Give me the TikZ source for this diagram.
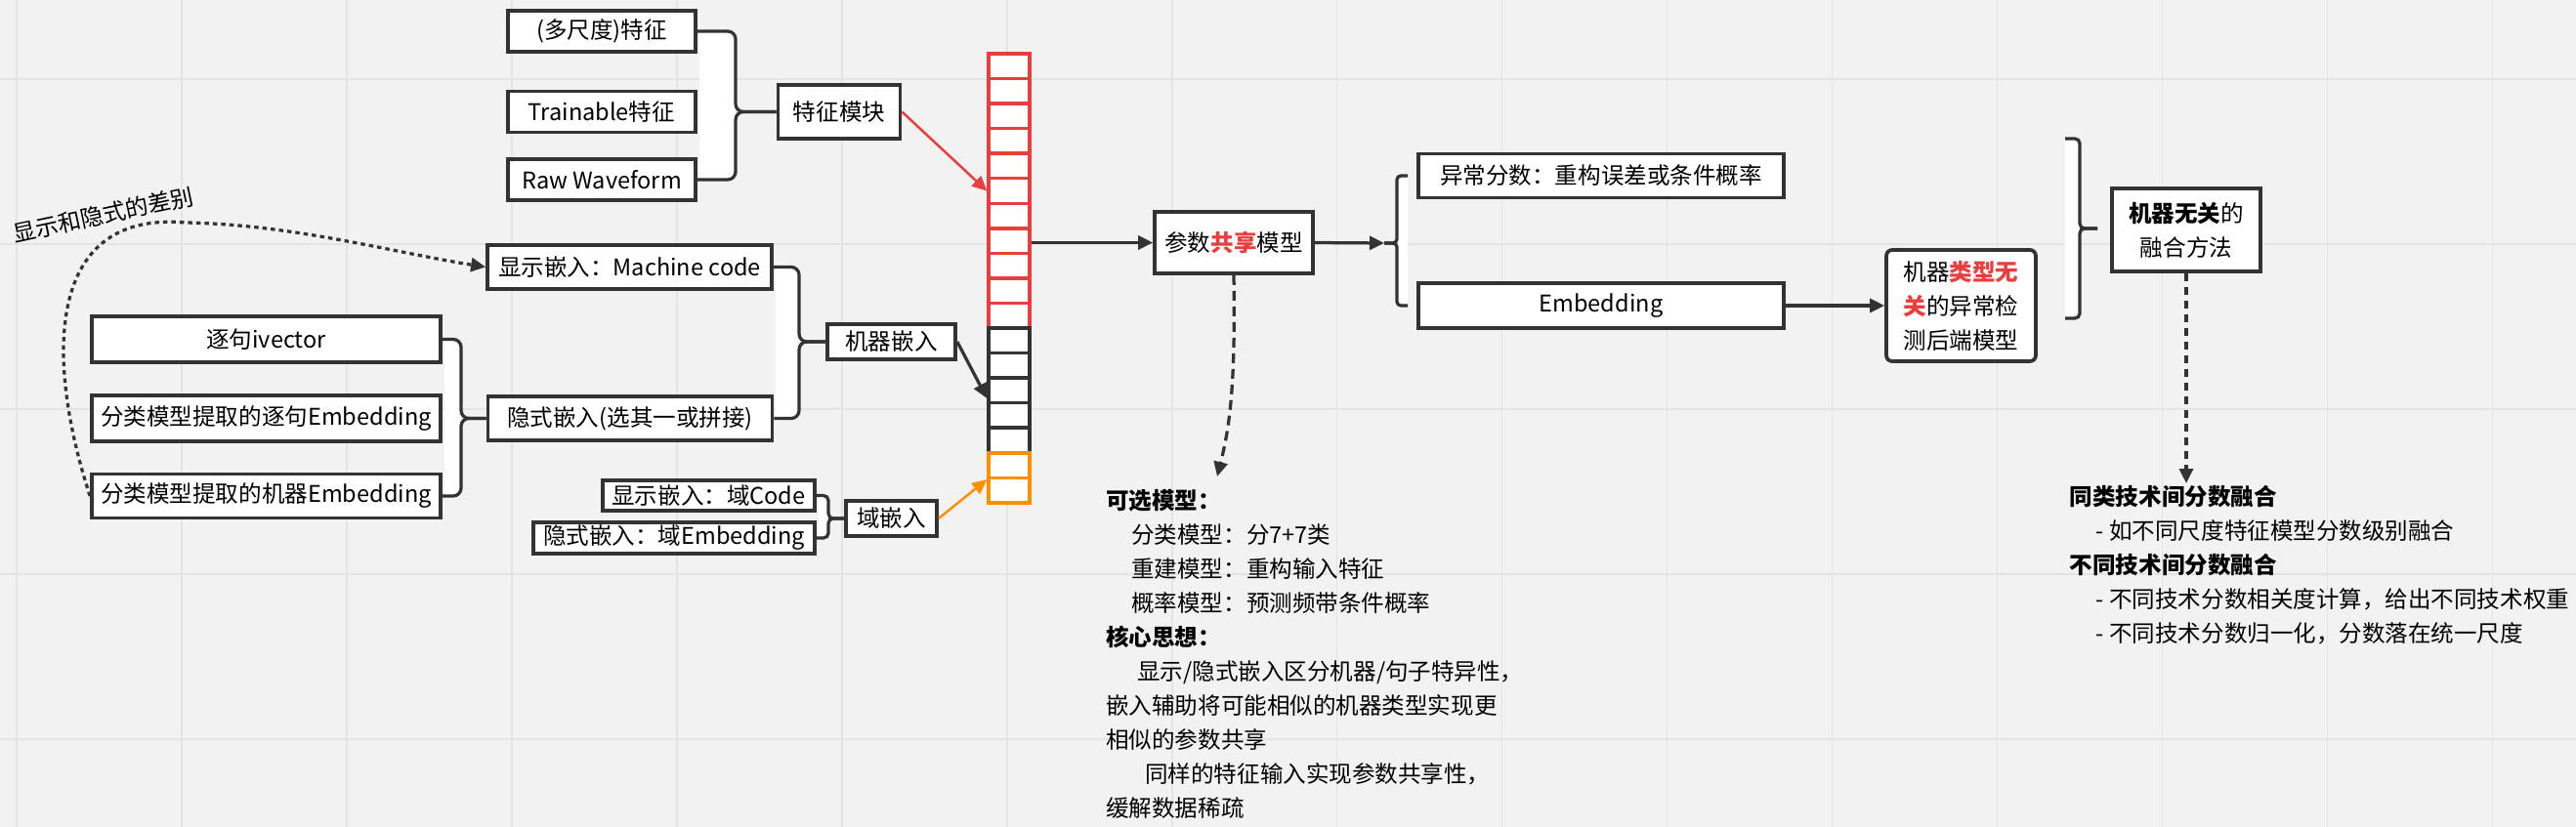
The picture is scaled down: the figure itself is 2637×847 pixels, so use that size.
\documentclass[tikz,border=0pt]{standalone}
\usepackage{fontspec}
\setmainfont{Noto Sans CJK SC}
\usetikzlibrary{positioning,calc,arrows.meta}

\definecolor{canvas}{HTML}{F2F2F2}
\definecolor{gridgray}{HTML}{E4E4E4}
\definecolor{linegray}{HTML}{333333}
\definecolor{hotred}{HTML}{E83E3E}
\definecolor{amber}{HTML}{FF8F00}

\begin{document}
\begin{tikzpicture}[
    x=0.02cm, y=-0.02cm,
    >={Triangle[length=0.3cm,width=0.28cm]},
    box/.style={draw=linegray, fill=white, line width=0.075cm, inner sep=0pt, font=\fontsize{13.4}{19.9}\selectfont},
    cell/.style={fill=white, line width=0.07cm, minimum width=0.84cm, minimum height=0.511cm, inner sep=0pt},
    link/.style={draw=linegray, line width=0.065cm},
    brace/.style={draw=linegray, line width=0.065cm, rounded corners=0.16cm},
    note/.style={align=left, anchor=north west, inner sep=0pt, font=\fontsize{13.4}{19.9}\selectfont},
    gridline/.style={draw=gridgray, line width=0.03cm}
]

% Canvas and grid
\useasboundingbox (0,0) rectangle (2637,847);
\fill[canvas] (0,0) rectangle (2637,847);
\draw[gridline, step=3.38cm, xshift=0.34cm, yshift=-1.62cm] (-17,-81) grid (2620,766);

% Feature inputs
\node[box, minimum width=3.84cm, minimum height=0.84cm] (f1) at (616, 32) {(多尺度)特征};
\node[box, minimum width=3.84cm, minimum height=0.84cm] (f2) at (616, 114.5) {Trainable特征};
\node[box, minimum width=3.84cm, minimum height=0.84cm] (f3) at (616, 184) {Raw Waveform};
\node[box, minimum width=2.5cm, minimum height=1.1cm] (feat) at (859, 114.5) {特征模块};

% Machine embedding inputs
\node[box, minimum width=5.82cm, minimum height=0.9cm] (mc) at (644.5, 273.5) {显示嵌入：Machine code};
\node[box, minimum width=5.82cm, minimum height=0.9cm] (imp) at (645, 428.5) {隐式嵌入(选其一或拼接)};
\node[box, minimum width=7.14cm, minimum height=0.94cm] (ivec) at (272.5, 347.5) {逐句ivector};
\node[box, minimum width=7.14cm, minimum height=0.94cm] (sentEmb) at (272.5, 428.5) {分类模型提取的逐句Embedding};
\node[box, minimum width=7.14cm, minimum height=0.9cm] (machEmb) at (272.5, 508) {分类模型提取的机器Embedding};
\node[box, minimum width=2.62cm, minimum height=0.72cm] (machine) at (912.5, 350) {机器嵌入};

% Domain embedding inputs
\node[box, minimum width=4.34cm, minimum height=0.62cm] (dcode) at (725.5, 507.5) {显示嵌入：域Code};
\node[box, minimum width=5.76cm, minimum height=0.64cm] (demb) at (690, 551) {隐式嵌入：域Embedding};
\node[box, minimum width=1.86cm, minimum height=0.72cm] (domain) at (912.5, 531) {域嵌入};

\node[rotate=12, inner sep=0pt, font=\fontsize{13.4}{19.9}\selectfont] (diffLabel) at (106, 220) {显示和隐式的差别};

% Input vector column
\node[cell, draw=hotred] (c1) at (1033, 67.8) {};
\node[cell, draw=hotred] (c2) at (1033, 93.3) {};
\node[cell, draw=hotred] (c3) at (1033, 118.9) {};
\node[cell, draw=hotred] (c4) at (1033, 144.4) {};
\node[cell, draw=hotred] (c5) at (1033, 170) {};
\node[cell, draw=hotred] (c6) at (1033, 195.5) {};
\node[cell, draw=hotred] (c7) at (1033, 221.1) {};
\node[cell, draw=hotred] (c8) at (1033, 246.6) {};
\node[cell, draw=hotred] (c9) at (1033, 272.2) {};
\node[cell, draw=hotred] (c10) at (1033, 297.7) {};
\node[cell, draw=hotred] (c11) at (1033, 323.3) {};
\node[cell, draw=linegray] (c12) at (1033, 348.8) {};
\node[cell, draw=linegray] (c13) at (1033, 374.4) {};
\node[cell, draw=linegray] (c14) at (1033, 399.9) {};
\node[cell, draw=linegray] (c15) at (1033, 425.5) {};
\node[cell, draw=linegray] (c16) at (1033, 451) {};
\node[cell, draw=amber] (c17) at (1033, 476.6) {};
\node[cell, draw=amber] (c18) at (1033, 502.1) {};

% Shared model and outputs
\node[box, minimum width=3.24cm, minimum height=1.26cm] (share) at (1263, 248.5) {参数\textcolor{hotred}{\textbf{共享}}模型};
\node[box, minimum width=7.48cm, minimum height=0.9cm] (score) at (1639, 180) {异常分数：重构误差或条件概率};
\node[box, minimum width=7.48cm, minimum height=0.92cm] (emb) at (1639, 313) {Embedding};
\node[box, rounded corners=0.12cm, align=center, minimum width=3.06cm, minimum height=2.28cm] (backend) at (2007.5, 313)
    {机器\textcolor{hotred}{\textbf{类型无}}\\\textcolor{hotred}{\textbf{关}}的异常检\\测后端模型};
\node[box, align=center, minimum width=3.04cm, minimum height=1.7cm] (fusion) at (2238, 235.5) {\textbf{机器无关}的\\融合方法};

% Notes
\node[note] (optText) at (1132, 501) {\textbf{可选模型：}\\
\hspace*{0.52cm}分类模型：分7+7类\\
\hspace*{0.52cm}重建模型：重构输入特征\\
\hspace*{0.52cm}概率模型：预测频带条件概率\\
\textbf{核心思想：}\\
\hspace*{0.64cm}显示/隐式嵌入区分机器/句子特异性，\\
嵌入辅助将可能相似的机器类型实现更\\
相似的参数共享\\
\hspace*{0.8cm}同样的特征输入实现参数共享性，\\
缓解数据稀疏};
\node[note] (fuseText) at (2118.5, 497) {\textbf{同类技术间分数融合}\\
\hspace*{0.54cm}- 如不同尺度特征模型分数级别融合\\
\textbf{不同技术间分数融合}\\
\hspace*{0.54cm}- 不同技术分数相关度计算，给出不同技术权重\\
\hspace*{0.54cm}- 不同技术分数归一化，分数落在统一尺度};

% Braces
\coordinate (fb) at (753, 114.5);
\fill[white] ([xshift=0.04cm]f1.east) rectangle (f3.east -| fb);
\draw[brace] (f1.east) -| (fb) -- (feat.west);
\draw[brace] (f3.east) -| (fb) -- (feat.west);

\coordinate (mb) at (818, 350);
\fill[white] ([xshift=0.04cm]mc.east) rectangle (imp.east -| mb);
\draw[brace] (mc.east) -| (mb) -- (machine.west);
\draw[brace] (imp.east) -| (mb) -- (machine.west);

\coordinate (ib) at (472, 428.5);
\fill[white] ([xshift=0.04cm]ivec.east) rectangle (machEmb.east -| ib);
\draw[brace] (ivec.east) -| (ib) -- (imp.west);
\draw[brace] (machEmb.east) -| (ib) -- (imp.west);

\coordinate (db) at (848, 531);
\fill[white] ([xshift=0.04cm]dcode.east) rectangle (demb.east -| db);
\draw[brace, rounded corners=0.1cm] (dcode.east) -| (db) -- (domain.west);
\draw[brace, rounded corners=0.1cm] (demb.east) -| (db) -- (domain.west);

\coordinate (ob) at (1430, 249);
\coordinate (outTip) at (1417, 249);
\fill[white] ([xshift=-0.18cm]score.west) rectangle (ob |- emb.west);
\draw[brace, rounded corners=0.08cm] ([xshift=-0.18cm]score.west) -| (ob) -- (outTip);
\draw[brace, rounded corners=0.08cm] ([xshift=-0.18cm]emb.west) -| (ob) -- (outTip);

\coordinate (fuseTop) at (2114, 142);
\coordinate (fuseBot) at (2114, 326);
\coordinate (fuseMid) at (2129, 234);
\coordinate (fuseTip) at (2147, 234);
\fill[white] (fuseTop) rectangle (fuseMid |- fuseBot);
\draw[brace, rounded corners=0.1cm] (fuseTop) -| (fuseMid) -- (fuseTip);
\draw[brace, rounded corners=0.1cm] (fuseBot) -| (fuseMid) -- (fuseTip);

% Arrows into the column
\draw[->, draw=hotred, line width=0.05cm] (feat.east) -- (c6.west);
\draw[->, link] (machine.east) -- ([yshift=-0.16cm]c14.west);
\draw[->, draw=amber, line width=0.05cm] (domain.east) -- (c17.south west);

% Main flow
\draw[->, link] (share.west -| c8.east) -- (share.west);
\draw[->, link] (share.east) -- (outTip);
\draw[->, link] (emb.east) -- (backend.west);

% Dashed hints
\coordinate (optHead) at (1246, 488);
\coordinate (fuseHead) at (2238, 495);
\draw[->, link, dash pattern=on 0.09cm off 0.08cm] (machEmb.west) .. controls (50,380) and (40,215) .. (190,228) .. controls (300,230) and (400,258) .. (mc.west);
\draw[->, link, dash pattern=on 0.2cm off 0.12cm] (share.south) .. controls (1265,400) and (1258,440) .. (optHead);
\draw[->, link, dash pattern=on 0.16cm off 0.12cm] (fusion.south) -- (fuseHead);

\end{tikzpicture}
\end{document}
